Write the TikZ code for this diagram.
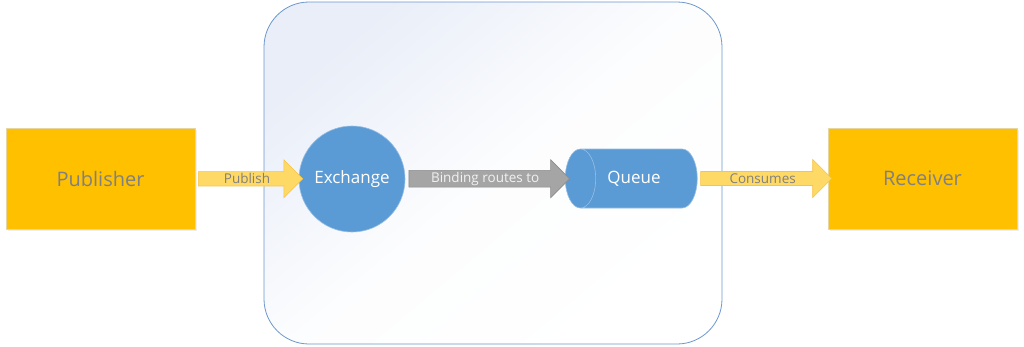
\documentclass[tikz,border=0pt]{standalone}
\usepackage{fontspec}
\setmainfont{Open Sans}
\definecolor{boxgold}{RGB}{255, 192, 0}
\definecolor{boxedge}{RGB}{232, 214, 160}
\definecolor{arrowgold}{RGB}{255, 217, 102}
\definecolor{arrowedge}{RGB}{246, 196, 70}
\definecolor{nodeblue}{RGB}{91, 155, 213}
\definecolor{nodeedge}{RGB}{150, 190, 228}
\definecolor{brokeredge}{RGB}{108, 152, 206}
\definecolor{brokerfill}{RGB}{233, 238, 248}
\definecolor{bindgray}{RGB}{165, 165, 165}
\definecolor{bindedge}{RGB}{140, 140, 140}
\definecolor{textgray}{RGB}{128, 128, 128}
\usetikzlibrary{shapes.geometric, shapes.arrows, calc, shadows}
\tikzset{
    party/.style={
        rectangle, minimum width=189, minimum height=101,
        draw=boxedge, fill=boxgold, line width=0.6pt,
        text=textgray, font=\fontsize{20}{24}\selectfont,
        drop shadow={opacity=0.12, shadow xshift=1.5pt, shadow yshift=-2pt}
    },
    broker/.style={
        rectangle, rounded corners=45, minimum width=458, minimum height=342,
        draw=brokeredge, line width=0.8pt,
        top color=brokerfill, bottom color=white, middle color=white!88!brokerfill,
        shading angle=40
    },
    exchangenode/.style={
        circle, minimum size=106, inner sep=0,
        draw=nodeedge, fill=nodeblue, line width=0.6pt,
        text=white, font=\fontsize{17}{20}\selectfont
    },
    queuenode/.style={
        cylinder, shape border rotate=180, aspect=2,
        minimum width=59, minimum height=132, inner sep=0,
        draw=nodeedge, fill=nodeblue, line width=0.6pt,
        text=white, font=\fontsize{17}{20}\selectfont
    },
    fatarrow/.style={
        single arrow, minimum width=38, single arrow head extend=9,
        inner sep=0, line width=0.6pt,
        font=\fontsize{13.5}{16}\selectfont
    },
    goldarrow/.style={fatarrow, draw=arrowedge, fill=arrowgold, text=textgray},
    grayarrow/.style={fatarrow, draw=bindedge, fill=bindgray, text=white!95!black}
}
\newcommand{\flowarrow}[4]{%
  \path let \p1=($(#3)-(#2)$), \n1={veclen(\x1,\y1)} in
    (#2) -- (#3) node[#1, midway, minimum height=\n1+1] {#4};}

\begin{document}
\begin{tikzpicture}[x=1pt, y=-1pt]
    \useasboundingbox[fill=white] (0,0) rectangle (1024,346);

    % broker frame
    \node[broker] (frame) at (493,173) {};

    % parties and broker parts
    \node[party] (pub) at (100.5,178.5) {Publisher};
    \node[exchangenode] (ex) at (352,179) {Exchange};
    \node[queuenode] (queue) at (639,178.5) {\hspace*{-10pt}Queue};
    \node[party] (recv) at (922.5,178.5) {Receiver};

    % flows
    \flowarrow{goldarrow}{pub.east}{ex.west}{Publish}
    \flowarrow{grayarrow}{ex.east}{queue.west}{Binding routes to}
    \flowarrow{goldarrow}{queue.east}{recv.west}{Consumes}
\end{tikzpicture}
\end{document}
